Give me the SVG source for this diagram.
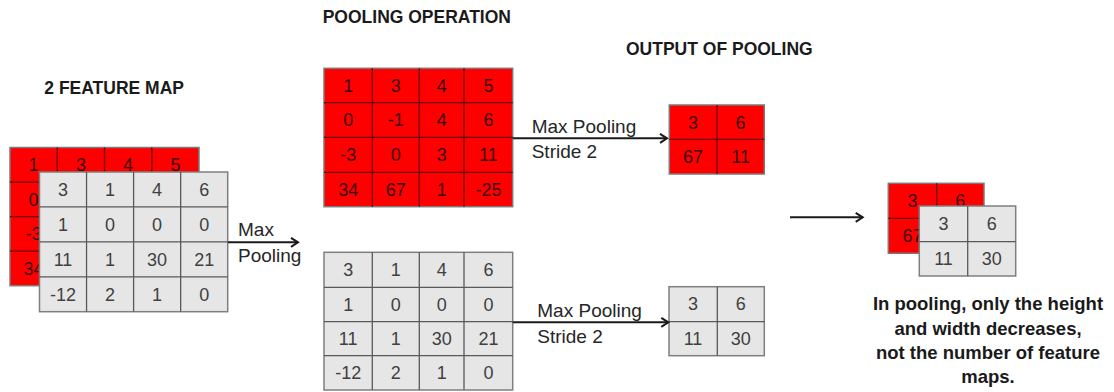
<svg xmlns="http://www.w3.org/2000/svg" width="1114" height="392" viewBox="0 0 1114 392">
  <defs>
    <style>
      .hdr { font-family: "Liberation Sans", Arial, sans-serif; font-weight: bold; font-size: 17.5px; fill: #1a1a1a; }
      .note { font-family: "Liberation Sans", Arial, sans-serif; font-weight: bold; font-size: 18.5px; fill: #1a1a1a; text-anchor: middle; }
      .lbl { font-family: "Liberation Sans", Arial, sans-serif; font-size: 19px; fill: #262626; }
      .red rect { fill: #ff0000; stroke: #7a7a7a; stroke-width: 1.5; }
      .red line { stroke: #6b0000; stroke-width: 1.3; }
      .red text { font-family: "Liberation Sans", Arial, sans-serif; font-size: 18px; fill: #3a0808; text-anchor: middle; }
      .gray rect { fill: #e6e6e6; stroke: #7f7f7f; stroke-width: 1.5; }
      .gray line { stroke: #595959; stroke-width: 1.3; }
      .gray text { font-family: "Liberation Sans", Arial, sans-serif; font-size: 18px; fill: #404040; text-anchor: middle; }
      .conn line { stroke: #1a1a1a; stroke-width: 2; marker-end: url(#chev); }
    </style>
    <marker id="chev" markerUnits="userSpaceOnUse" markerWidth="14" markerHeight="14" refX="9" refY="6" orient="auto">
      <path d="M2,1.5 L9,6 L2,10.5" fill="none" stroke="#1a1a1a" stroke-width="2"/>
    </marker>
  </defs>
  <rect width="1114" height="392" fill="#ffffff"/>

  <!-- headings -->
  <text class="hdr" x="44.3" y="94.3">2 FEATURE MAP</text>
  <text class="hdr" x="322.7" y="22.7">POOLING OPERATION</text>
  <text class="hdr" x="626" y="55">OUTPUT OF POOLING</text>

  <!-- input feature map 1 (red, behind; only its uncovered values are drawn) -->
  <g id="input-red" class="red" transform="translate(10,147.5)">
    <rect x="0" y="0" width="189" height="138.2"/>
    <line x1="47.25" y1="0" x2="47.25" y2="138.2"/>
    <line x1="94.5" y1="0" x2="94.5" y2="138.2"/>
    <line x1="141.75" y1="0" x2="141.75" y2="138.2"/>
    <line x1="0" y1="34.55" x2="189" y2="34.55"/>
    <line x1="0" y1="69.1" x2="189" y2="69.1"/>
    <line x1="0" y1="103.65" x2="189" y2="103.65"/>
    <text x="23.6" y="23.6">1</text><text x="70.9" y="23.6">3</text><text x="118.1" y="23.6">4</text><text x="165.4" y="23.6">5</text>
    <text x="23.6" y="58.2">0</text>
    <text x="23.6" y="92.7">-3</text>
    <text x="23.6" y="127.3">34</text>
  </g>

  <!-- input feature map 2 (gray, front) -->
  <g id="input-gray" class="gray" transform="translate(39.5,172)">
    <rect x="0" y="0" width="188.2" height="139.7"/>
    <line x1="47.05" y1="0" x2="47.05" y2="139.7"/>
    <line x1="94.1" y1="0" x2="94.1" y2="139.7"/>
    <line x1="141.15" y1="0" x2="141.15" y2="139.7"/>
    <line x1="0" y1="34.9" x2="188.2" y2="34.9"/>
    <line x1="0" y1="69.85" x2="188.2" y2="69.85"/>
    <line x1="0" y1="104.8" x2="188.2" y2="104.8"/>
    <text x="23.5" y="23.8">3</text><text x="70.6" y="23.8">1</text><text x="117.6" y="23.8">4</text><text x="164.7" y="23.8">6</text>
    <text x="23.5" y="58.7">1</text><text x="70.6" y="58.7">0</text><text x="117.6" y="58.7">0</text><text x="164.7" y="58.7">0</text>
    <text x="23.5" y="93.7">11</text><text x="70.6" y="93.7">1</text><text x="117.6" y="93.7">30</text><text x="164.7" y="93.7">21</text>
    <text x="23.5" y="128.6">-12</text><text x="70.6" y="128.6">2</text><text x="117.6" y="128.6">1</text><text x="164.7" y="128.6">0</text>
  </g>

  <!-- pooling operation, red map -->
  <g id="pool-red" class="red" transform="translate(324,68.3)">
    <rect x="0" y="0" width="188.7" height="138.4"/>
    <line x1="48.3" y1="0" x2="48.3" y2="138.4"/>
    <line x1="95.3" y1="0" x2="95.3" y2="138.4"/>
    <line x1="140" y1="0" x2="140" y2="138.4"/>
    <line x1="0" y1="34.4" x2="188.7" y2="34.4"/>
    <line x1="0" y1="69" x2="188.7" y2="69"/>
    <line x1="0" y1="104" x2="188.7" y2="104"/>
    <text x="24.2" y="23.6">1</text><text x="71.8" y="23.6">3</text><text x="117.7" y="23.6">4</text><text x="164.4" y="23.6">5</text>
    <text x="24.2" y="58.1">0</text><text x="71.8" y="58.1">-1</text><text x="117.7" y="58.1">4</text><text x="164.4" y="58.1">6</text>
    <text x="24.2" y="92.9">-3</text><text x="71.8" y="92.9">0</text><text x="117.7" y="92.9">3</text><text x="164.4" y="92.9">11</text>
    <text x="24.2" y="127.6">34</text><text x="71.8" y="127.6">67</text><text x="117.7" y="127.6">1</text><text x="164.4" y="127.6">-25</text>
  </g>

  <!-- pooling operation, gray map -->
  <g id="pool-gray" class="gray" transform="translate(324,252.3)">
    <rect x="0" y="0" width="188.7" height="137.7"/>
    <line x1="48.3" y1="0" x2="48.3" y2="137.7"/>
    <line x1="95.3" y1="0" x2="95.3" y2="137.7"/>
    <line x1="140" y1="0" x2="140" y2="137.7"/>
    <line x1="0" y1="35" x2="188.7" y2="35"/>
    <line x1="0" y1="69.4" x2="188.7" y2="69.4"/>
    <line x1="0" y1="103.4" x2="188.7" y2="103.4"/>
    <text x="24.2" y="23.8">3</text><text x="71.8" y="23.8">1</text><text x="117.7" y="23.8">4</text><text x="164.4" y="23.8">6</text>
    <text x="24.2" y="58.5">1</text><text x="71.8" y="58.5">0</text><text x="117.7" y="58.5">0</text><text x="164.4" y="58.5">0</text>
    <text x="24.2" y="92.7">11</text><text x="71.8" y="92.7">1</text><text x="117.7" y="92.7">30</text><text x="164.4" y="92.7">21</text>
    <text x="24.2" y="126.9">-12</text><text x="71.8" y="126.9">2</text><text x="117.7" y="126.9">1</text><text x="164.4" y="126.9">0</text>
  </g>

  <!-- pooled outputs -->
  <g id="out-red" class="red" transform="translate(669.3,105)">
    <rect x="0" y="0" width="95" height="69"/>
    <line x1="47.7" y1="0" x2="47.7" y2="69"/>
    <line x1="0" y1="34.3" x2="95" y2="34.3"/>
    <text x="23.8" y="23.5">3</text><text x="71.3" y="23.5">6</text>
    <text x="23.8" y="58">67</text><text x="71.3" y="58">11</text>
  </g>
  <g id="out-gray" class="gray" transform="translate(669,286.7)">
    <rect x="0" y="0" width="95.3" height="69"/>
    <line x1="48.3" y1="0" x2="48.3" y2="69"/>
    <line x1="0" y1="35" x2="95.3" y2="35"/>
    <text x="24" y="23.8">3</text><text x="71.8" y="23.8">6</text>
    <text x="24" y="58">11</text><text x="71.8" y="58">30</text>
  </g>

  <!-- stacked result -->
  <g id="stack-red" class="red" transform="translate(888.3,183.3)">
    <rect x="0" y="0" width="95.7" height="70"/>
    <line x1="48.4" y1="0" x2="48.4" y2="70"/>
    <line x1="0" y1="35" x2="95.7" y2="35"/>
    <text x="24.2" y="23.8">3</text><text x="72" y="23.8">6</text>
    <text x="24.2" y="58.8">67</text>
  </g>
  <g id="stack-gray" class="gray" transform="translate(919.3,206)">
    <rect x="0" y="0" width="96.4" height="70"/>
    <line x1="48.4" y1="0" x2="48.4" y2="70"/>
    <line x1="0" y1="35.7" x2="96.4" y2="35.7"/>
    <text x="24.2" y="24">3</text><text x="72.4" y="24">6</text>
    <text x="24.2" y="59">11</text><text x="72.4" y="59">30</text>
  </g>

  <!-- connectors -->
  <g id="connectors" class="conn">
    <line x1="228" y1="242.3" x2="298" y2="242.3"/>
    <line x1="512.7" y1="138.3" x2="667" y2="138.3"/>
    <line x1="512.7" y1="322.3" x2="668.3" y2="322.3"/>
    <line x1="790" y1="217.3" x2="862.7" y2="217.3"/>
  </g>

  <!-- connector labels -->
  <g id="labels">
    <text class="lbl" x="238" y="236">Max</text>
    <text class="lbl" x="238" y="262">Pooling</text>
    <text class="lbl" x="531.7" y="132.7">Max Pooling</text>
    <text class="lbl" x="531.7" y="158.3">Stride 2</text>
    <text class="lbl" x="537.3" y="316.7">Max Pooling</text>
    <text class="lbl" x="537.3" y="342.7">Stride 2</text>
  </g>

  <!-- note -->
  <g id="note">
    <text class="note" x="988" y="310">In pooling, only the height</text>
    <text class="note" x="988" y="334.5">and width decreases,</text>
    <text class="note" x="988" y="358.5">not the number of feature</text>
    <text class="note" x="988" y="383">maps.</text>
  </g>
</svg>
